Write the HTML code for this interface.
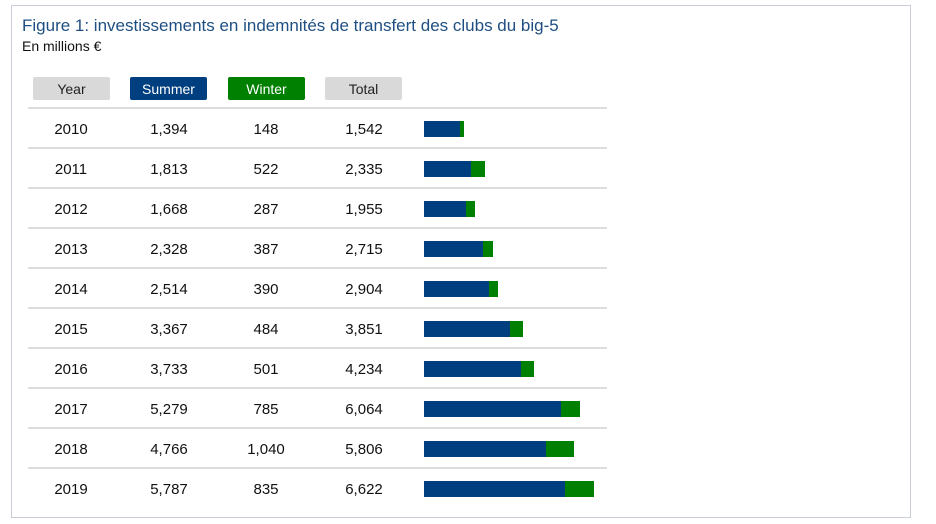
<!DOCTYPE html>
<html><head><meta charset="utf-8"><style>
body{margin:0;width:936px;height:524px;background:#fff;font-family:"Liberation Sans",sans-serif;position:relative;overflow:hidden}
.frame{position:absolute;left:11px;top:5px;width:900px;height:513px;border:1px solid #c9ced8;box-sizing:border-box}
.t{position:absolute;left:22px;top:16px;font-size:17px;color:#1f4f82}
.s{position:absolute;left:22px;top:38px;font-size:14px;color:#111}
.p{position:absolute;top:77px;height:23px;line-height:24px;text-align:center;font-size:14px;border-radius:2px}
.c{position:absolute;width:100px;text-align:center;font-size:15px;color:#111}
.l{position:absolute;left:28px;width:579px;height:2px;background:#ddd}
.b{position:absolute;height:16px}
</style></head><body>
<div class="frame"></div>
<div class="t">Figure 1: investissements en indemnités de transfert des clubs du big-5</div>
<div class="s">En millions €</div>
<div class="p" style="left:33px;width:77px;background:#d9d9d9;color:#222">Year</div>
<div class="p" style="left:130px;width:77px;background:#003f7f;color:#fff">Summer</div>
<div class="p" style="left:228px;width:77px;background:#008000;color:#fff">Winter</div>
<div class="p" style="left:325px;width:77px;background:#d9d9d9;color:#222">Total</div>
<div id="rows"></div>
<script>
var d=[["2010","1,394","148","1,542",36,40],["2011","1,813","522","2,335",47,61],["2012","1,668","287","1,955",42,51],["2013","2,328","387","2,715",59,69],["2014","2,514","390","2,904",65,74],["2015","3,367","484","3,851",86,99],["2016","3,733","501","4,234",97,110],["2017","5,279","785","6,064",137,156],["2018","4,766","1,040","5,806",122,150],["2019","5,787","835","6,622",141,170]];
var h="";d.forEach(function(r,i){var y=129+40*i;
h+='<div class="l" style="top:'+(y-22)+'px"></div>';
[71,169,266,364].forEach(function(x,j){h+='<div class="c" style="left:'+(x-50)+'px;top:'+(y-8)+'px">'+r[j]+'</div>';});
h+='<div class="b" style="left:424px;top:'+(y-8)+'px;width:'+r[5]+'px;background:#008000"></div>';
h+='<div class="b" style="left:424px;top:'+(y-8)+'px;width:'+r[4]+'px;background:#003f7f"></div>';});
document.getElementById("rows").innerHTML=h;
</script>
</body></html>
